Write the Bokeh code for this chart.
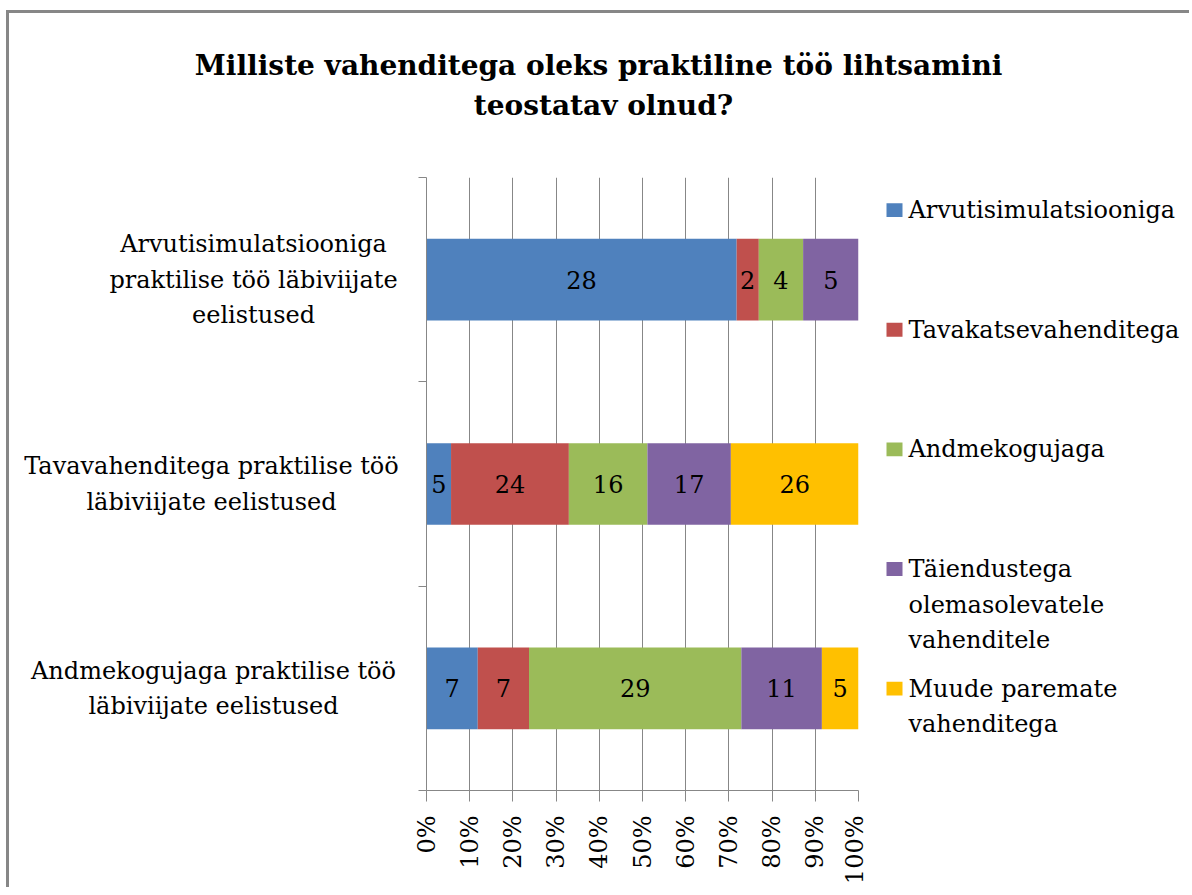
import math
from bokeh.plotting import figure
from bokeh.layouts import column, row
from bokeh.models import Range1d, FixedTicker, NumeralTickFormatter, ColumnDataSource
from bokeh.core.properties import value
from bokeh.embed import file_html
from bokeh.resources import INLINE

# ---------------- data ----------------
title_lines = ["Milliste vahenditega  oleks praktiline töö lihtsamini", "teostatav olnud?"]
category_lines = [
    ["Arvutisimulatsiooniga", "praktilise töö läbiviijate", "eelistused"],
    ["Tavavahenditega praktilise töö", "läbiviijate eelistused"],
    ["Andmekogujaga praktilise töö", "läbiviijate eelistused"],
]
series_lines = [
    ["Arvutisimulatsiooniga"],
    ["Tavakatsevahenditega"],
    ["Andmekogujaga"],
    ["Täiendustega", "olemasolevatele", "vahenditele"],
    ["Muude paremate", "vahenditega"],
]
arvutisimulatsiooniga = [28, 5, 7]
tavakatsevahenditega = [2, 24, 7]
andmekogujaga = [4, 16, 29]
taiendustega = [5, 17, 11]
muude_paremate = [0, 26, 5]
x_ticks = [0.0, 0.1, 0.2, 0.3, 0.4, 0.5, 0.6, 0.7, 0.8, 0.9, 1.0]
colors = ["#4F81BD", "#C0504D", "#9BBB59", "#8064A2", "#FFC000"]

series = [arvutisimulatsiooniga, tavakatsevahenditega, andmekogujaga, taiendustega, muude_paremate]

# ---------------- layout (page pixels) ----------------
CX0, CY0 = 9, 13              # content origin (inside border)
TOTAL_W = 1180
HT = 130                      # title strip height
WL, WM = 397, 462             # left-label strip, main plot widths
WR = TOTAL_W - WL - WM        # legend strip width
MB_L, MB_R, MB_T, MB_B = 20, 10, 34, 90
FH = 620
HR = MB_T + FH + MB_B
ROW_TOP = CY0 + HT
NCAT = len(category_lines)

FONT = "DejaVu Serif"
GRAY = "#878787"


def blank_fig(width, height, x_range, y_range, **kw):
    f = figure(width=width, height=height, output_backend="svg", toolbar_location=None,
               x_range=x_range, y_range=y_range, title=None,
               min_border_left=0, min_border_right=0,
               min_border_top=kw.get("top", 0), min_border_bottom=kw.get("bottom", 0))
    f.axis.visible = False
    f.grid.visible = False
    f.outline_line_color = None
    f.background_fill_color = "white"
    f.border_fill_color = "white"
    return f


# ---------------- main plot ----------------
y_range = Range1d(0, NCAT)
p = figure(width=WM, height=HR, output_backend="svg", toolbar_location=None, title=None,
           x_range=Range1d(0, 1), y_range=y_range,
           min_border_left=MB_L, min_border_right=MB_R,
           min_border_top=MB_T, min_border_bottom=MB_B)
p.outline_line_color = None
p.background_fill_color = "white"
p.border_fill_color = "white"

p.xaxis.ticker = FixedTicker(ticks=x_ticks)
p.xaxis.formatter = NumeralTickFormatter(format="0%")
p.xaxis.major_label_orientation = math.pi / 2
p.xaxis.major_label_text_font = FONT
p.xaxis.major_label_text_font_size = "24px"
p.xaxis.major_label_text_color = "black"
p.xaxis.major_label_standoff = 14
p.xaxis.major_tick_out = 11
p.xaxis.major_tick_in = 0
p.xaxis.minor_tick_line_color = None
p.xaxis.axis_line_color = GRAY
p.xaxis.major_tick_line_color = GRAY

p.yaxis.ticker = FixedTicker(ticks=list(range(NCAT + 1)))
p.yaxis.major_label_overrides = {i: "" for i in range(NCAT + 1)}
p.yaxis.major_tick_out = 8
p.yaxis.major_tick_in = 0
p.yaxis.minor_tick_line_color = None
p.yaxis.axis_line_color = GRAY
p.yaxis.major_tick_line_color = GRAY

p.xgrid.ticker = FixedTicker(ticks=x_ticks)
p.xgrid.grid_line_color = GRAY
p.ygrid.grid_line_color = None

totals = [sum(s[i] for s in series) for i in range(NCAT)]
centers = [NCAT - i - 0.5 for i in range(NCAT)]
cum = [0.0] * NCAT
for k, s in enumerate(series):
    left = [cum[i] for i in range(NCAT)]
    right = [cum[i] + s[i] / totals[i] for i in range(NCAT)]
    p.hbar(y=centers, left=left, right=right, height=0.4, fill_color=colors[k], line_color=None)
    keep = [i for i in range(NCAT) if s[i] > 0]
    src = ColumnDataSource(dict(x=[(left[i] + right[i]) / 2 for i in keep],
                                y=[centers[i] for i in keep],
                                t=[str(s[i]) for i in keep]))
    p.text(x="x", y="y", text="t", source=src, text_align="center", text_baseline="middle",
           text_font=value(FONT), text_font_size="24px", text_color="black")
    cum = right

# ---------------- title strip ----------------
pt = blank_fig(TOTAL_W, HT, Range1d(CX0, CX0 + TOTAL_W), Range1d(CY0 + HT, CY0))
pt.text(x=[603] * len(title_lines), y=[65 + 40 * j for j in range(len(title_lines))],
        text=title_lines, text_align="center", text_baseline="alphabetic",
        text_font=value(FONT), text_font_size="28px", text_font_style="bold", text_color="black")

# ---------------- category labels (left strip) ----------------
pl = blank_fig(WL, HR, Range1d(CX0, CX0 + WL), y_range, top=MB_T, bottom=MB_B)
cat_cx = [253, 211, 213]
LH = 35.5
lx, ly, lt, lo = [], [], [], []
for i, lines in enumerate(category_lines):
    n = len(lines)
    for j, line in enumerate(lines):
        lx.append(cat_cx[i])
        ly.append(centers[i])
        lt.append(line)
        lo.append((j - (n - 1) / 2) * LH)
pl.text(x="x", y="y", text="t", y_offset="o", source=ColumnDataSource(dict(x=lx, y=ly, t=lt, o=lo)),
        text_align="center", text_baseline="middle", text_font=value(FONT),
        text_font_size="24px", text_color="black")

# ---------------- legend (right strip) ----------------
R_X0 = CX0 + WL + WM
pr = blank_fig(WR, HR, Range1d(R_X0, R_X0 + WR),
               Range1d(ROW_TOP + MB_T + FH, ROW_TOP + MB_T), top=MB_T, bottom=MB_B)
LEG_Y0, LEG_STEP, LEG_LH = 210, 121, 36
sq_y = [LEG_Y0 + k * LEG_STEP for k in range(len(series_lines))]
pr.quad(left=[886] * len(sq_y), right=[902] * len(sq_y),
        top=[y - 7 for y in sq_y], bottom=[y + 7 for y in sq_y],
        fill_color=colors, line_color=None)
tx, ty, tt = [], [], []
for k, lines in enumerate(series_lines):
    for j, line in enumerate(lines):
        tx.append(908)
        ty.append(sq_y[k] + j * LEG_LH)
        tt.append(line)
pr.text(x=tx, y=ty, text=tt, text_align="left", text_baseline="middle",
        text_font=value(FONT), text_font_size="24px", text_color="black")

layout = column(pt, row(pl, p, pr, spacing=0), spacing=0)
layout.styles = {"border-left": f"3px solid {GRAY}", "border-top": f"3px solid {GRAY}",
                 "margin-left": "6px", "margin-top": "10px"}

open("out.html", "w").write(file_html(layout, INLINE))
